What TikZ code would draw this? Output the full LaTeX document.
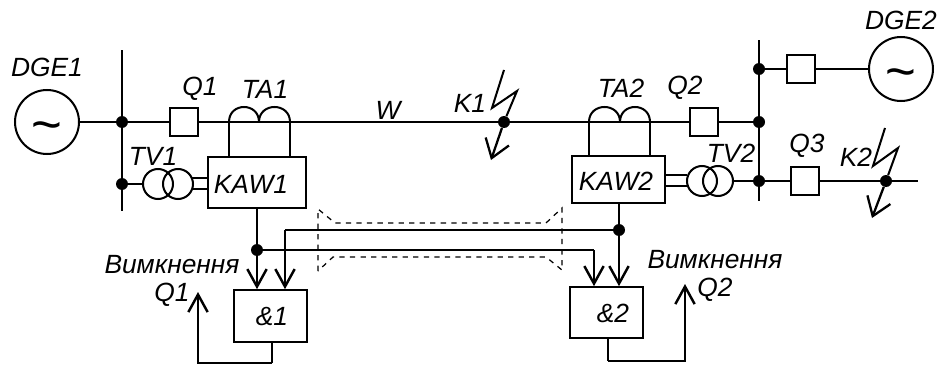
\documentclass[tikz,border=0pt]{standalone}
\usepackage{fontspec}
\setmainfont{Liberation Sans}
\usetikzlibrary{arrows.meta}
\tikzset{
	lbl/.style={font=\fontsize{15}{17}\selectfont\itshape, inner sep=0pt},
	gener/.style={draw, circle, line width=1.15pt, minimum size=1.28cm, inner sep=0pt, font=\fontsize{30}{30}\selectfont},
	brk/.style={draw, line width=1.15pt, minimum size=0.56cm, inner sep=0pt},
	tvcirc/.style={draw, circle, line width=1.15pt, minimum size=0.6cm, inner sep=0pt},
	relay/.style={draw, line width=0.95pt, inner sep=0pt},
	dot/.style={circle, fill=black, minimum size=0.24cm, inner sep=0pt},
	wire/.style={line width=1.15pt},
	busbar/.style={line width=1.5pt},
	barb/.style={line width=1.4pt, -{Straight Barb[length=10pt, width=11pt]}},
	hitarrow/.style={line width=1.3pt, -{Straight Barb[length=10pt, width=14pt]}},
	link/.style={line width=1.4pt},
	screen/.style={line width=0.7pt, dashed}
}
\begin{document}
\begin{tikzpicture}[x=0.02cm, y=-0.02cm]
	\useasboundingbox (0,0) rectangle (941,365);
	
	% Left bus
	\coordinate (bus1top) at (122,50);
	\coordinate (bus1bot) at (122,211);
	\draw[busbar] (bus1top) -- (bus1bot);
	\node[dot] (dot1) at (122,122) {};
	\node[dot] (dot2) at (122,184) {};
	
	% Right bus
	\coordinate (bus2top) at (759,40);
	\coordinate (bus2bot) at (759,201);
	\draw[busbar] (bus2top) -- (bus2bot);
	\node[dot] (dot3) at (759,69) {};
	\node[dot] (dot4) at (759,122) {};
	\node[dot] (dot7) at (759,181) {};
	
	% Generators and breakers
	\node[gener] (gen1) at (47,122) {\raisebox{-11.5pt}[0pt][0pt]{\textasciitilde}};
	\node[gener] (gen2) at (901,69) {\raisebox{-11.5pt}[0pt][0pt]{\textasciitilde}};
	\node[brk] (q1) at (184,122) {};
	\node[brk] (q2) at (704,122) {};
	\node[brk] (q4) at (801,69) {};
	\node[brk] (q3) at (805,181) {};
	\node[dot] (k1dot) at (504,122) {};
	\node[dot] (k2dot) at (886,181) {};
	\coordinate (lineend) at (918,181);
	
	% Power lines
	\draw[wire] (gen1) -- (dot1) -- (q1);
	\draw[wire] (q1) -- (k1dot) -- (q2) -- (dot4);
	\draw[wire] (dot3) -- (q4) -- (gen2);
	\draw[wire] (dot7) -- (q3) -- (k2dot) -- (lineend);
	
	% Relay boxes
	\node[relay, minimum width=1.96cm, minimum height=1.02cm] (kaw1) at (257,182.5) {};
	\node[relay, minimum width=1.86cm, minimum height=0.94cm] (kaw2) at (618.5,179.5) {};
	\node[relay, minimum width=1.46cm, minimum height=1.04cm] (and1) at (270.5,316) {};
	\node[relay, minimum width=1.46cm, minimum height=1.02cm] (and2) at (606.5,312.5) {};
	
	% Current transformers
	\coordinate (ta1a) at (229,122);
	\coordinate (ta1m) at (259,122);
	\coordinate (ta1b) at (290,122);
	\coordinate (ta2a) at (589,122);
	\coordinate (ta2m) at (620,122);
	\coordinate (ta2b) at (650,122);
	\draw[wire] (ta1a) .. controls (229,102) and (259,102) .. (ta1m) .. controls (259,102) and (290,102) .. (ta1b);
	\draw[wire] (ta2a) .. controls (589,102) and (620,102) .. (ta2m) .. controls (620,102) and (650,102) .. (ta2b);
	\draw[wire] (ta1a) -- (ta1a |- kaw1.north);
	\draw[wire] (ta1b) -- (ta1b |- kaw1.north);
	\draw[wire] (ta2a) -- (ta2a |- kaw2.north);
	\draw[wire] (ta2b) -- (ta2b |- kaw2.north);
	
	% Voltage transformers
	\node[tvcirc] (tv1a) at (158,184) {};
	\node[tvcirc] (tv1b) at (178,184) {};
	\node[tvcirc] (tv2a) at (702,181) {};
	\node[tvcirc] (tv2b) at (718,181) {};
	\draw[wire] (dot2) -- (tv1a);
	\draw[wire] (tv2b) -- (dot7);
	\coordinate (tv1up) at (192,178);
	\coordinate (tv1dn) at (192,189);
	\coordinate (tv2up) at (687,175);
	\coordinate (tv2dn) at (687,186);
	\draw[wire] (tv1up) -- (tv1up -| kaw1.west);
	\draw[wire] (tv1dn) -- (tv1dn -| kaw1.west);
	\draw[wire] (tv2up) -- (tv2up -| kaw2.east);
	\draw[wire] (tv2dn) -- (tv2dn -| kaw2.east);
	
	% Faults
	\coordinate (k1a) at (504,70);
	\coordinate (k1b) at (492,108);
	\coordinate (k1c) at (517,91);
	\coordinate (k1d) at (491,160);
	\draw[wire] (k1a) -- (k1b) -- (k1c) -- (k1dot);
	\draw[hitarrow] (k1dot) -- (k1d);
	\coordinate (k2a) at (885,128);
	\coordinate (k2b) at (873,166);
	\coordinate (k2c) at (898,148);
	\coordinate (k2d) at (872,218);
	\draw[wire] (k2a) -- (k2b) -- (k2c) -- (k2dot);
	\draw[hitarrow] (k2dot) -- (k2d);
	
	% Communication channel
	\coordinate (s1) at (318,209);
	\coordinate (s2) at (335,223);
	\coordinate (s3) at (546,223);
	\coordinate (s4) at (562,208);
	\coordinate (s5) at (318,271);
	\coordinate (s6) at (333,257);
	\coordinate (s7) at (546,257);
	\coordinate (s8) at (562,270);
	\draw[screen] (s5) -- (s1) -- (s2) -- (s3) -- (s4) -- (s8) -- (s7) -- (s6) -- (s5);
	
	% Signals
	\node[dot] (dot5) at (257,250) {};
	\node[dot] (dot6) at (619,230) {};
	\coordinate (in1) at (285,230);
	\coordinate (in2) at (594,250);
	\draw[link] (kaw1.south -| dot5) -- (dot5);
	\draw[link] (kaw2.south -| dot6) -- (dot6);
	\draw[link] (dot5) -- (in2);
	\draw[link] (dot6) -- (in1);
	\draw[barb] (dot5) -- (dot5 |- and1.north);
	\draw[barb] (in1) -- (in1 |- and1.north);
	\draw[barb] (in2) -- (in2 |- and2.north);
	\draw[barb] (dot6) -- (dot6 |- and2.north);
	
	% Trip outputs
	\coordinate (out1) at (272,363);
	\coordinate (out2) at (198,292);
	\coordinate (out3) at (608,361);
	\coordinate (out4) at (685,284);
	\draw[link] (out1 |- and1.south) -- (out1);
	\draw[barb] (out1) -- (out1 -| out2) -- (out2);
	\draw[link] (out3 |- and2.south) -- (out3);
	\draw[barb] (out3) -- (out3 -| out4) -- (out4);
	
	% Labels
	\node[lbl] (tdge1) at (47,67) {DGE1};
	\node[lbl] (tdge2) at (901,20) {DGE2};
	\node[lbl] (tq1) at (200,89) {Q1};
	\node[lbl] (tta1) at (265,89) {TA1};
	\node[lbl] (ttv1) at (153,156) {TV1};
	\node[lbl] (tkaw1) at (251,184) {KAW1};
	\node[lbl] (tw) at (388,110) {W};
	\node[lbl] (tk1) at (470,103) {K1};
	\node[lbl] (tta2) at (621,88) {TA2};
	\node[lbl] (tq2) at (685,88) {Q2};
	\node[lbl] (ttv2) at (731,153) {TV2};
	\node[lbl] (tkaw2) at (616,181) {KAW2};
	\node[lbl] (tq3) at (807,146) {Q3};
	\node[lbl] (tk2) at (856,157) {K2};
	\node[lbl] (toff1) at (172,265) {Вимкнення};
	\node[lbl] (tqa) at (172,295) {Q1};
	\node[lbl] (toff2) at (715,260) {Вимкнення};
	\node[lbl] (tqb) at (715,290) {Q2};
	\node[lbl] (tand1) at (272,317) {\&1};
	\node[lbl] (tand2) at (613,313) {\&2};
\end{tikzpicture}
\end{document}
